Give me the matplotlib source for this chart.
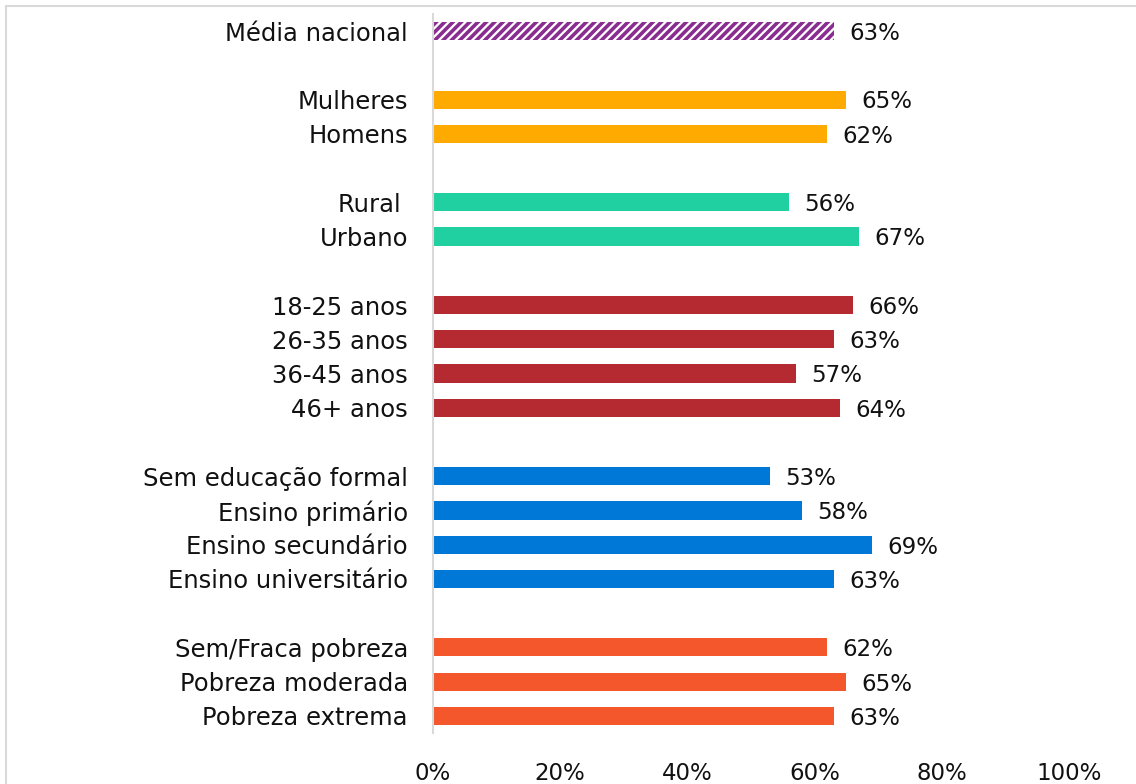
import matplotlib.pyplot as plt
from matplotlib.patches import Rectangle

plt.rcParams['font.family'] = ['DejaVu Sans']
plt.rcParams['hatch.linewidth'] = 2.6

labels = ['Média nacional',
          'Mulheres', 'Homens',
          'Rural ', 'Urbano',
          '18-25 anos', '26-35 anos', '36-45 anos', '46+ anos',
          'Sem educação formal', 'Ensino primário', 'Ensino secundário', 'Ensino universitário',
          'Sem/Fraca pobreza', 'Pobreza moderada', 'Pobreza extrema']
values = [63, 65, 62, 56, 67, 66, 63, 57, 64, 53, 58, 69, 63, 62, 65, 63]
# group index of every row, a blank row is left between groups
groups = [0, 1, 1, 2, 2, 3, 3, 3, 3, 4, 4, 4, 4, 5, 5, 5]
group_colors = ['#8A2D90', '#FFAA00', '#21D0A0', '#B52A30', '#0078D7', '#F4572B']
xticks = [0, 20, 40, 60, 80, 100]

# row positions with a gap between groups
pos = []
row = 0
prev = groups[0]
for g in groups:
    if g != prev:
        row += 1
        prev = g
    pos.append(row)
    row += 1

fig = plt.figure(figsize=(11.36, 7.84), dpi=100)
ax = fig.add_axes([433 / 1136, 1 - 733 / 784, (1069 - 433) / 1136, (733 - 14) / 784])

fs = 16.5
for y, v, g in zip(pos, values, groups):
    if g == 0:
        ax.barh(y, v / 100, height=0.53, color='white', edgecolor=group_colors[g],
                hatch='////', linewidth=0)
    else:
        ax.barh(y, v / 100, height=0.53, color=group_colors[g])
    ax.text(v / 100 + 0.024, y + 0.07, f'{v}%', va='center', ha='left',
            fontsize=fs, color='#111111')

ax.set_xlim(0, 1)
ax.set_ylim(pos[-1] + 0.5, -0.5)
ax.set_yticks(pos)
ax.set_yticklabels(labels, fontsize=17.5, color='#111111')
ax.set_xticks([t / 100 for t in xticks])
ax.set_xticklabels([f'{t}%' for t in xticks], fontsize=fs, color='#111111')
ax.tick_params(axis='y', length=0, pad=18)
ax.tick_params(axis='x', length=0, pad=21)
for s in ['top', 'right', 'bottom']:
    ax.spines[s].set_visible(False)
ax.spines['left'].set_color('#d9d9d9')
ax.spines['left'].set_linewidth(1.5)

# chart frame, cut off at right and bottom
fig.patches.append(Rectangle((6 / 1136, -0.1), 1.2, 1 - 6 / 784 + 0.1,
                             transform=fig.transFigure, fill=False,
                             edgecolor='#d9d9d9', linewidth=1.5))

fig.savefig('out.png', dpi=100)
